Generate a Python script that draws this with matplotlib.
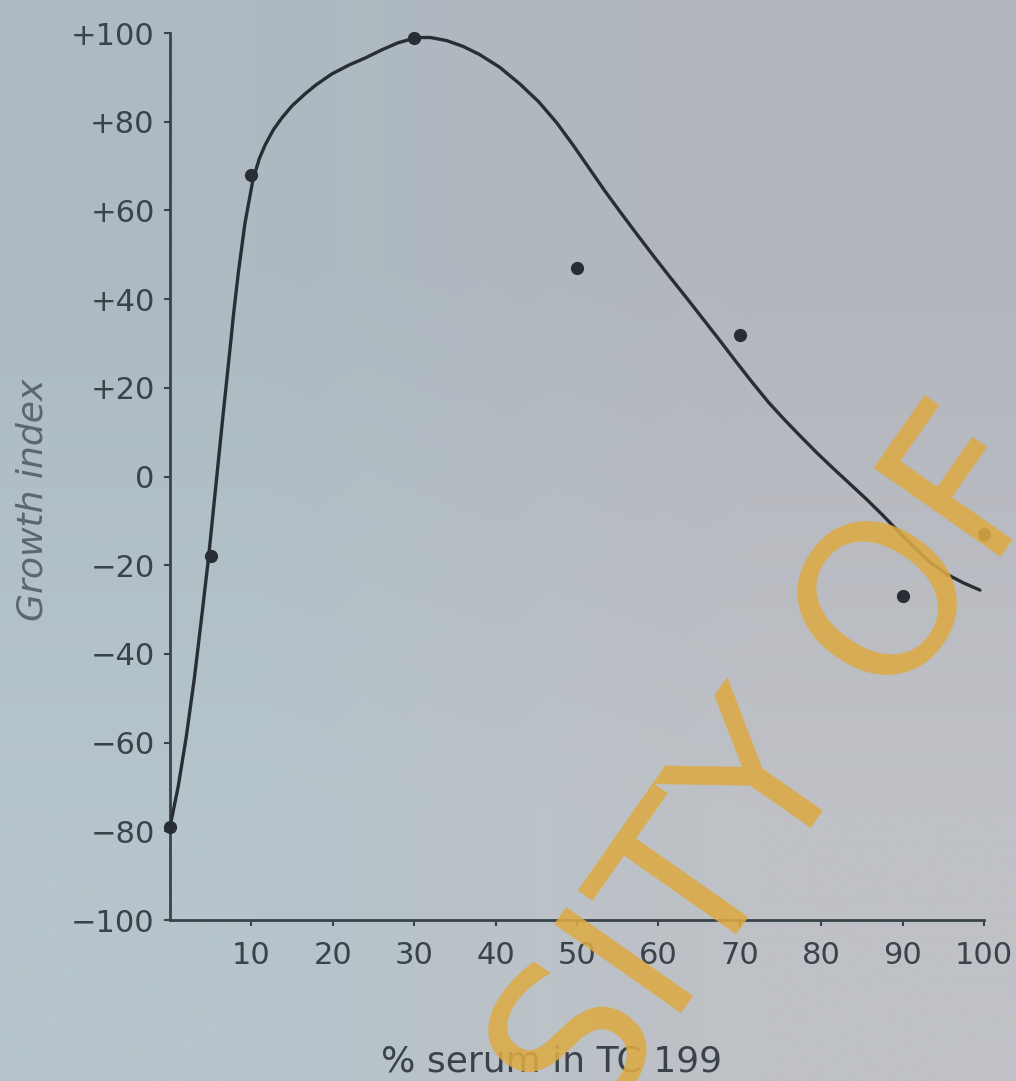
import numpy as np
import matplotlib
matplotlib.use("Agg")
import matplotlib.pyplot as plt
from matplotlib.colors import to_rgb

# Measured growth index at each serum concentration
serum_pct = [0, 5, 10, 30, 50, 70, 90, 100]
growth_index = [-79, -18, 68, 99, 47, 32, -27, -13]

# Hand-drawn trend curve, traced point by point
curve_x = [0, 1, 2, 3, 4, 4.7, 5.5, 6.5, 7.5, 7.8, 8.4, 9.2, 10.2, 11, 11.7,
           12.7, 13.8, 15, 16.6, 18, 19.9, 22, 24, 26, 28, 30.3, 32, 34, 36, 38,
           40.5, 43, 45.3, 47.5, 49.5, 51.5, 53.5, 55.5, 57.5, 59.5, 61.5, 63.5,
           65.5, 67.5, 69.5, 71.5, 73.5, 75.5, 77.5, 79.5, 81.5, 83.5, 85.5,
           87.5, 89.5, 91.5, 93.5, 95.5, 97.5, 99.5]
curve_y = [-79, -70, -58.7, -45.4, -30, -18.9, -4.5, 13.5, 31, 36.5, 46, 57,
           67, 71.8, 74.8, 78.2, 81, 83.6, 86.3, 88.4, 90.8, 92.8, 94.4, 96.2,
           97.8, 99, 99, 98.3, 97, 95.2, 92.3, 88.5, 84.5, 79.8, 74.8, 69.5,
           64.2, 59.2, 54.3, 49.5, 44.8, 40.2, 35.5, 30.8, 26, 21.3, 16.8, 12.8,
           9, 5.3, 1.8, -1.6, -5, -8.6, -12.4, -16.1, -19.5, -22.1, -24, -25.6]

x_ticks = [10, 20, 30, 40, 50, 60, 70, 80, 90, 100]
y_ticks = [100, 80, 60, 40, 20, 0, -20, -40, -60, -80, -100]
y_tick_labels = ["+100", "+80", "+60", "+40", "+20", "0",
                 "\u221220", "\u221240", "\u221260", "\u221280", "\u2212100"]

ink = "#272e34"
axis_ink = "#3a434a"
label_ink = "#3a434a"

fig = plt.figure(figsize=(10.16, 10.81), dpi=100)

# Paper background: soft grey-blue tone, slightly bluer on the left
bg = fig.add_axes([0, 0, 1, 1], zorder=-10)
corners = np.array([[to_rgb("#adbac2"), to_rgb("#b3b6bd")],
                    [to_rgb("#b6c4cb"), to_rgb("#bfc1c6")]])
bg.imshow(corners, extent=[0, 1, 0, 1], aspect="auto", interpolation="bilinear")
bg.set_axis_off()

ax = fig.add_axes([0.1673, 0.1489, 0.8012, 0.8205])
ax.patch.set_alpha(0)
ax.set_xlim(0, 100)
ax.set_ylim(-100, 100)

ax.plot(curve_x, curve_y, color=ink, lw=2.4, solid_capstyle="round",
        solid_joinstyle="round", zorder=3)
ax.plot(serum_pct, growth_index, "o", color=ink, ms=8.5, zorder=4, clip_on=False)

for side in ("top", "right"):
    ax.spines[side].set_visible(False)
for side in ("left", "bottom"):
    ax.spines[side].set_linewidth(2.0)
    ax.spines[side].set_color(axis_ink)

ax.set_xticks(x_ticks)
ax.set_xticklabels([str(v) for v in x_ticks])
ax.set_yticks(y_ticks)
ax.set_yticklabels(y_tick_labels)
ax.tick_params(axis="both", direction="out", length=4, width=1.5, colors=axis_ink,
               labelcolor=label_ink, labelsize=22)
ax.tick_params(axis="x", pad=11)
ax.tick_params(axis="y", pad=7)

fig.text(0.0315, 0.5375, "Growth index", rotation=90, ha="center", va="center",
         fontsize=26, style="italic", color="#5c666e")
fig.text(0.543, 0.009, "% serum in TC 199", ha="center", va="baseline",
         fontsize=26, color=label_ink)

# Library watermark across the lower right
fig.text(0.813, 0.2535, "SITY OF", rotation=55, rotation_mode="anchor",
         ha="center", va="baseline", fontsize=153, color="#dcaa45", alpha=0.88,
         zorder=20)

fig.savefig("out.png", dpi=100)
